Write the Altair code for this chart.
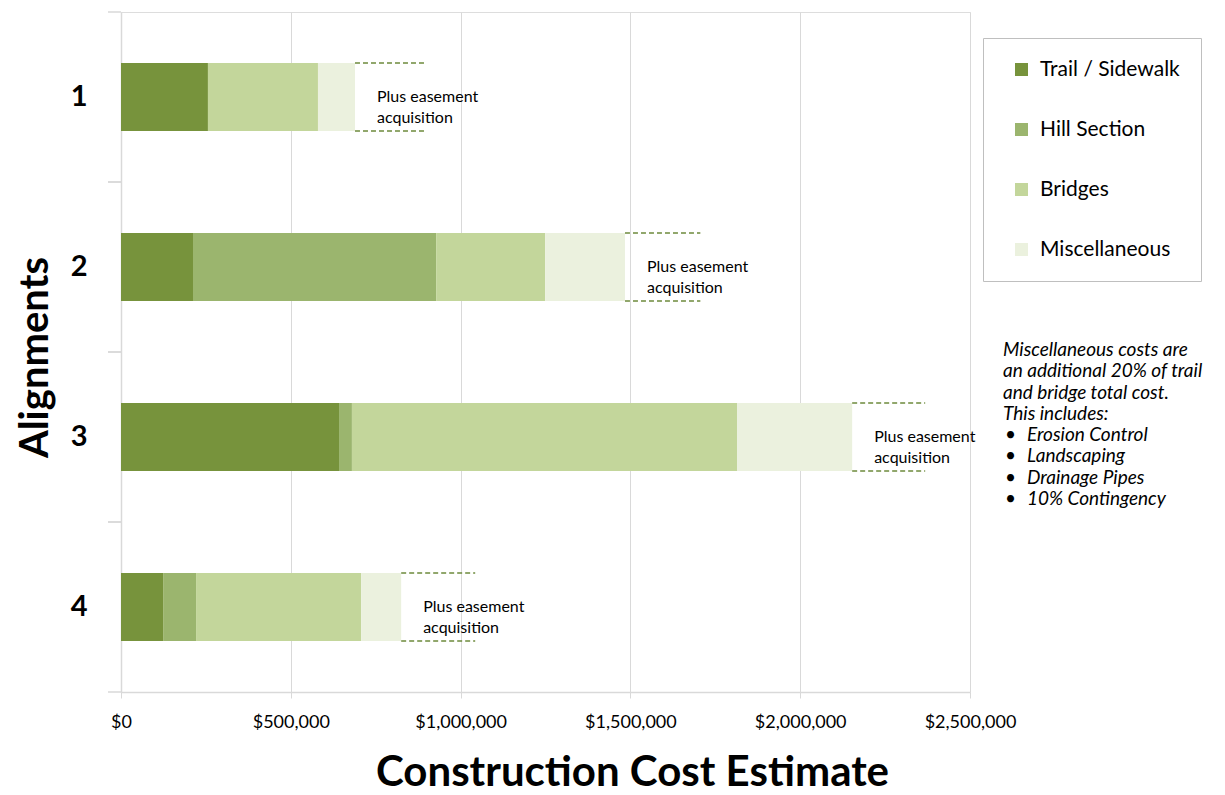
import altair as alt
import pandas as pd

alignments = ["1", "2", "3", "4"]
categories = ["Trail / Sidewalk", "Hill Section", "Bridges", "Miscellaneous"]
trail = [256000, 212000, 642000, 124000]
hill = [0, 716000, 38000, 97000]
bridges = [324000, 321000, 1134000, 486000]
misc = [109000, 235000, 339000, 118000]
easement_extent = [212000, 222000, 215000, 218000]
colors = ["#77933C", "#9BB56E", "#C3D69B", "#EBF1DE"]
note_lines = ["Miscellaneous costs are", "an additional 20% of trail",
              "and bridge total cost.", "This includes:"]
note_items = ["Erosion Control", "Landscaping", "Drainage Pipes", "10% Contingency"]

FONT = "Lato"
GRID = "#d9d9d9"

rows = []
for i, a in enumerate(alignments):
    for j, (c, vals) in enumerate(zip(categories, [trail, hill, bridges, misc])):
        rows.append({"alignment": a, "category": c, "value": vals[i], "order": j})
bars_df = pd.DataFrame(rows)

tot_rows = []
for i, a in enumerate(alignments):
    total = trail[i] + hill[i] + bridges[i] + misc[i]
    tot_rows.append({"alignment": a, "total": total, "end": total + easement_extent[i],
                     "label": ["Plus easement", "acquisition"]})
tot_df = pd.DataFrame(tot_rows)
tick_df = pd.DataFrame({"alignment": alignments})

y_scale = alt.Scale(domain=alignments, paddingInner=0.6, paddingOuter=0.3)
x_scale = alt.Scale(domain=[0, 2500000], nice=False)

bars = alt.Chart(bars_df).mark_bar().encode(
    y=alt.Y("alignment:N", scale=y_scale, sort=alignments,
            axis=alt.Axis(title="Alignments", titleFont=FONT, titleFontSize=40,
                          titleFontWeight="bold", titleColor="#000",
                          titleX=-74, titleY=345, titleAngle=-90,
                          titleBaseline="alphabetic", titleAlign="center",
                          labelFont=FONT, labelFontSize=29, labelFontWeight="bold",
                          labelColor="#000", labelPadding=34, ticks=False,
                          domainColor=GRID, domainWidth=1.5)),
    x=alt.X("value:Q", stack="zero", scale=x_scale,
            axis=alt.Axis(title="Construction Cost Estimate", format="$,.0f",
                          values=[0, 500000, 1000000, 1500000, 2000000, 2500000],
                          titleFont=FONT, titleFontSize=42, titleFontWeight="bold",
                          titleColor="#000", titleX=511, titleY=93,
                          titleBaseline="alphabetic", titleAlign="center",
                          labelFont=FONT, labelFontSize=18, labelColor="#000",
                          labelPadding=15, labelFlush=False,
                          tickColor=GRID, tickSize=6,
                          domainColor=GRID, domainWidth=1.5,
                          gridColor=GRID, gridWidth=1)),
    color=alt.Color("category:N", scale=alt.Scale(domain=categories, range=colors),
                    legend=alt.Legend(title=None, orient="none", legendX=862, legendY=26,
                                      strokeColor="#bfbfbf", fillColor="#ffffff",
                                      padding=21, rowPadding=38, symbolType="square",
                                      symbolSize=169, symbolStrokeWidth=0,
                                      labelFont=FONT, labelFontSize=21, labelColor="#000",
                                      labelLimit=300, symbolOffset=7, labelOffset=8)),
    order=alt.Order("order:Q"),
)

ytick_top = alt.Chart(tick_df).mark_rule(color=GRID, strokeWidth=1.5, yOffset=-85).encode(
    y=alt.Y("alignment:N", scale=y_scale, sort=alignments), x=alt.value(-13), x2=alt.value(0))
ytick_bot = alt.Chart(tick_df).mark_rule(color=GRID, strokeWidth=1.5, yOffset=85).encode(
    y=alt.Y("alignment:N", scale=y_scale, sort=alignments), x=alt.value(-13), x2=alt.value(0))

dash_top = alt.Chart(tot_df).mark_rule(color="#6E8B3D", strokeDash=[5, 3], strokeWidth=1.3,
                                        yOffset=-34).encode(
    y=alt.Y("alignment:N", scale=y_scale, sort=alignments),
    x=alt.X("total:Q", scale=x_scale), x2="end:Q")
dash_bot = alt.Chart(tot_df).mark_rule(color="#6E8B3D", strokeDash=[5, 3], strokeWidth=1.3,
                                        yOffset=34).encode(
    y=alt.Y("alignment:N", scale=y_scale, sort=alignments),
    x=alt.X("total:Q", scale=x_scale), x2="end:Q")

labels = alt.Chart(tot_df).mark_text(align="left", baseline="middle", dx=22, font=FONT,
                                     fontSize=16, color="#000", lineHeight=21).encode(
    y=alt.Y("alignment:N", scale=y_scale, sort=alignments),
    x=alt.X("total:Q", scale=x_scale), text="label")

note_df = pd.DataFrame({"t": [note_lines]})
note = alt.Chart(note_df).mark_text(align="left", baseline="middle", font=FONT, fontSize=19,
                                    fontStyle="italic", color="#000", lineHeight=21.3).encode(
    x=alt.value(882), y=alt.value(338), text="t")
items_df = pd.DataFrame({"t": [note_items], "b": [["•"] * len(note_items)]})
items = alt.Chart(items_df).mark_text(align="left", baseline="middle", font=FONT, fontSize=19,
                                      fontStyle="italic", color="#000", lineHeight=21.3).encode(
    x=alt.value(906), y=alt.value(423.2), text="t")
bullets = alt.Chart(items_df).mark_text(align="left", baseline="middle", font=FONT, fontSize=19,
                                        color="#000", lineHeight=21.3).encode(
    x=alt.value(884), y=alt.value(423.2), text="b")

chart = alt.layer(ytick_top, ytick_bot, bars, dash_top, dash_bot, labels, note, items,
                  bullets).properties(
    width=849, height=680,
    autosize=alt.AutoSizeParams(type="none"),
    padding={"left": 113, "top": 4, "right": 247, "bottom": 103},
).configure_view(stroke=None).configure(background="#ffffff")

chart.save("out.html", embed_options={"renderer": "svg", "actions": False})
